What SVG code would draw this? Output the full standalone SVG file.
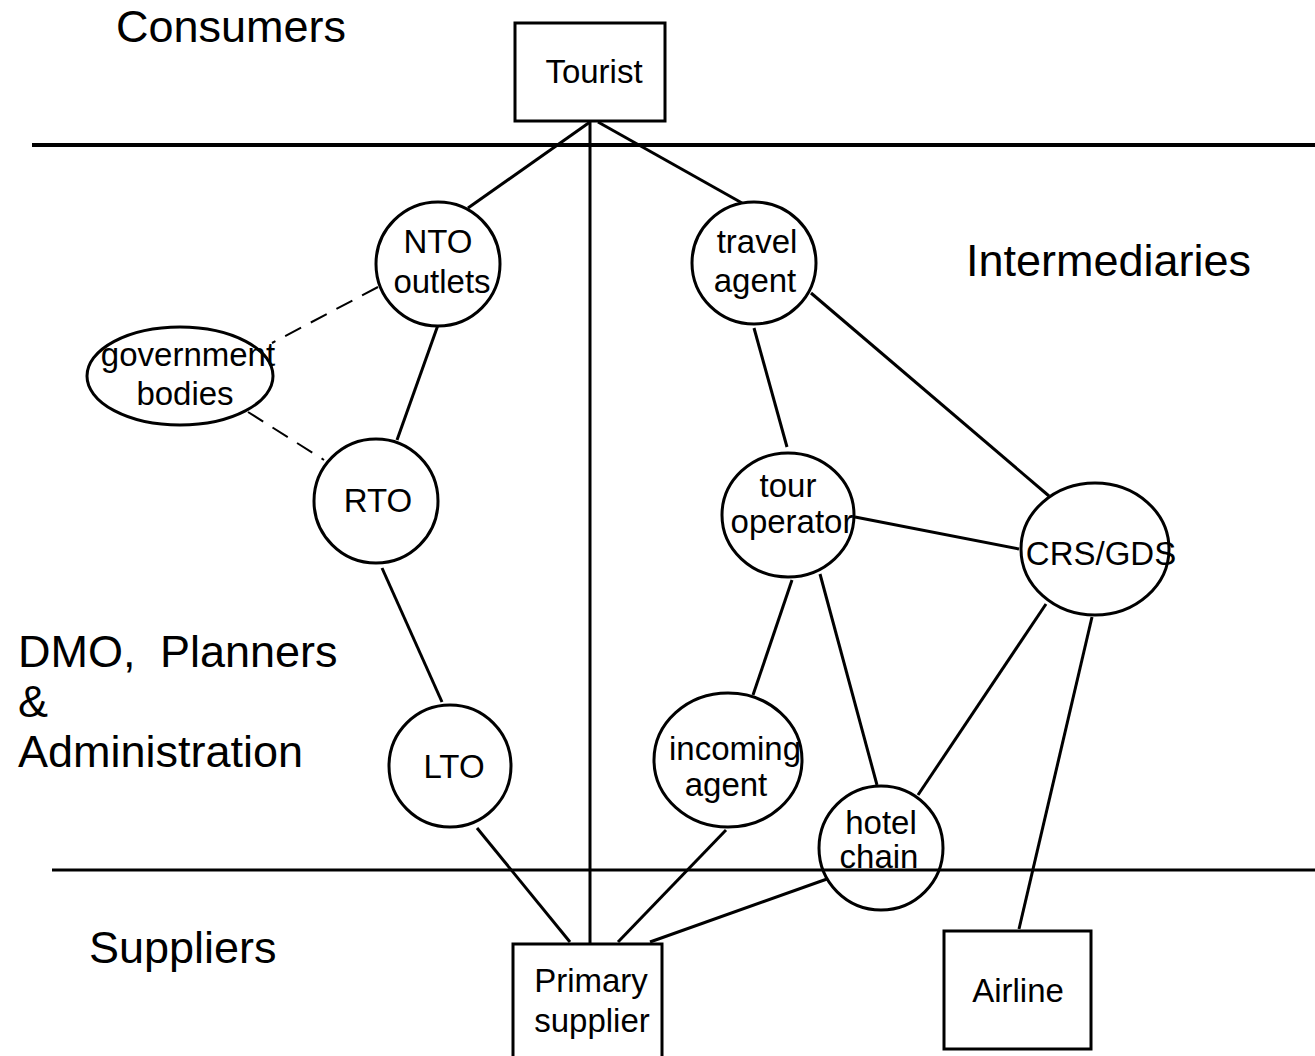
<svg xmlns="http://www.w3.org/2000/svg" width="1315" height="1056" viewBox="0 0 1315 1056">
  <style>
    .node { fill: #ffffff; stroke: #000000; stroke-width: 3; }
    .lbl { font-family: "Liberation Sans", Arial, sans-serif; font-size: 33px; fill: #000000; text-anchor: middle; }
    .zone { font-family: "Liberation Sans", Arial, sans-serif; font-size: 45px; fill: #000000; }
    .link { stroke: #000000; stroke-width: 3; fill: none; }
    .dash { stroke: #000000; stroke-width: 2; fill: none; stroke-dasharray: 18 11; }
    .band { stroke: #000000; fill: none; }
  </style>
  <rect width="1315" height="1056" fill="#ffffff"/>

  <!-- layer boundaries -->
  <g id="bands">
    <line class="band" x1="32" y1="145" x2="1315" y2="145" stroke-width="4"/>
    <line class="band" x1="52" y1="870" x2="1315" y2="870" stroke-width="3"/>
  </g>

  <!-- layer titles -->
  <g id="zones">
    <text class="zone" x="116" y="42">Consumers</text>
    <text class="zone" x="966" y="276">Intermediaries</text>
    <text class="zone" x="18" y="667">DMO, <tspan x="160">Planners</tspan></text>
    <text class="zone" x="18" y="717">&amp;</text>
    <text class="zone" x="18" y="767">Administration</text>
    <text class="zone" x="89" y="963">Suppliers</text>
  </g>

  <!-- connectors -->
  <g id="connectors">
    <line class="link" x1="590" y1="121" x2="590" y2="944" stroke-width="4"/>
    <line class="link" x1="590" y1="122" x2="468" y2="208"/>
    <line class="link" x1="598" y1="122" x2="742" y2="203"/>
    <line class="dash" x1="378" y1="287" x2="272" y2="343"/>
    <line class="dash" x1="248" y1="412" x2="324" y2="460"/>
    <line class="link" x1="438" y1="325" x2="397" y2="440"/>
    <line class="link" x1="382" y1="568" x2="442" y2="702"/>
    <line class="link" x1="477" y1="828" x2="570" y2="942"/>
    <line class="link" x1="754" y1="328" x2="787" y2="447"/>
    <line class="link" x1="811" y1="293" x2="1049" y2="496"/>
    <line class="link" x1="855" y1="517" x2="1019" y2="549"/>
    <line class="link" x1="792" y1="580" x2="753" y2="695"/>
    <line class="link" x1="820" y1="574" x2="877" y2="785"/>
    <line class="link" x1="1046" y1="604" x2="918" y2="795"/>
    <line class="link" x1="1092" y1="617" x2="1019" y2="929"/>
    <line class="link" x1="726" y1="830" x2="618" y2="942"/>
    <line class="link" x1="827" y1="879" x2="650" y2="942"/>
  </g>

  <g id="tourist">
    <rect class="node" x="515" y="23" width="150" height="98"/>
    <text class="lbl" x="594" y="83">Tourist</text>
  </g>

  <g id="nto-outlets">
    <circle class="node" cx="438" cy="264" r="62"/>
    <text class="lbl" x="438" y="253">NTO</text>
    <text class="lbl" x="442" y="293">outlets</text>
  </g>

  <g id="government-bodies">
    <ellipse class="node" cx="180" cy="376" rx="93" ry="49"/>
    <text class="lbl" x="188" y="366">government</text>
    <text class="lbl" x="185" y="405">bodies</text>
  </g>

  <g id="rto">
    <circle class="node" cx="376" cy="501" r="62"/>
    <text class="lbl" x="378" y="512">RTO</text>
  </g>

  <g id="lto">
    <circle class="node" cx="450" cy="766" r="61"/>
    <text class="lbl" x="454" y="778">LTO</text>
  </g>

  <g id="travel-agent">
    <ellipse class="node" cx="754" cy="263" rx="62" ry="61"/>
    <text class="lbl" x="757" y="253">travel</text>
    <text class="lbl" x="755" y="292">agent</text>
  </g>

  <g id="tour-operator">
    <ellipse class="node" cx="788" cy="515" rx="66" ry="62"/>
    <text class="lbl" x="788" y="497">tour</text>
    <text class="lbl" x="792" y="533">operator</text>
  </g>

  <g id="crs-gds">
    <ellipse class="node" cx="1095" cy="549" rx="74" ry="66"/>
    <text class="lbl" x="1101" y="565">CRS/GDS</text>
  </g>

  <g id="incoming-agent">
    <ellipse class="node" cx="728" cy="760" rx="74" ry="67"/>
    <text class="lbl" x="735" y="760">incoming</text>
    <text class="lbl" x="726" y="796">agent</text>
  </g>

  <!-- unfilled, so the supplier boundary shows through -->
  <g id="hotel-chain">
    <circle class="node" cx="881" cy="848" r="62" fill-opacity="0"/>
    <text class="lbl" x="881" y="834">hotel</text>
    <text class="lbl" x="879" y="868">chain</text>
  </g>

  <g id="primary-supplier">
    <rect class="node" x="513" y="944" width="149" height="130"/>
    <text class="lbl" x="591" y="992">Primary</text>
    <text class="lbl" x="592" y="1032">supplier</text>
  </g>

  <g id="airline">
    <rect class="node" x="944" y="931" width="147" height="118"/>
    <text class="lbl" x="1018" y="1002">Airline</text>
  </g>
</svg>
